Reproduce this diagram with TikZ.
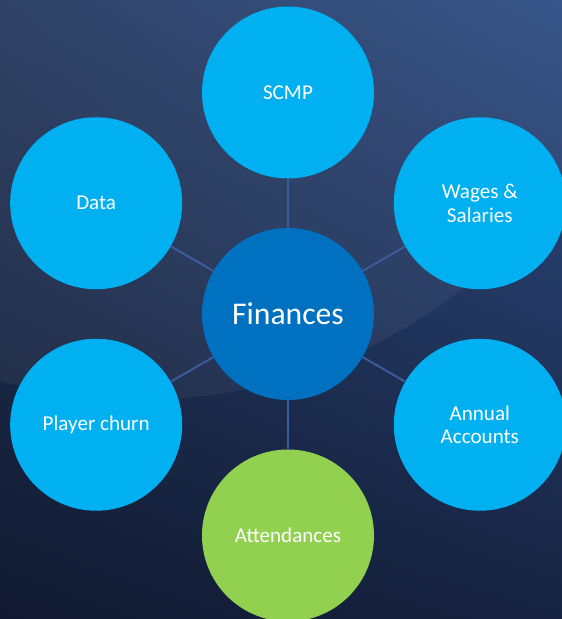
\documentclass[tikz,border=0pt]{standalone}
\usepackage{fontspec}
\setmainfont{Carlito}
\usepackage{tikz}
\usetikzlibrary{calc,shadings}
\definecolor{bgtl}{HTML}{25395F}
\definecolor{bgtr}{HTML}{2E4D84}
\definecolor{bgbl}{HTML}{101930}
\definecolor{bgbr}{HTML}{172341}
\definecolor{petalblue}{HTML}{00B0F0}
\definecolor{hubblue}{HTML}{0070C0}
\definecolor{petalgreen}{HTML}{92D050}
\definecolor{spoke}{HTML}{3A5D9E}
\tikzset{
every picture/.style={line cap=round,line join=round},
petal/.style={
  circle,
  fill=petalblue,
  minimum size=3.44cm,
  inner sep=0pt,
  align=center,
  text=white,
  font=\fontsize{12}{13.6}\selectfont
},
hub/.style={petal, fill=hubblue, font=\fontsize{18}{21}\selectfont},
green petal/.style={petal, fill=petalgreen},
spoke line/.style={draw=spoke, line width=1.1pt}
}
\begin{document}
\begin{tikzpicture}
% background
\useasboundingbox (-5.76,-6.10) rectangle (5.48,6.28);
\shade[upper left=bgtl,upper right=bgtr,lower left=bgbl,lower right=bgbr]
  (-5.76,-6.10) rectangle (5.48,6.28);
\begin{scope}
\clip (-5.76,-6.10) rectangle (5.48,6.28);
\fill[white,opacity=0.05] (-2.96,8.72) circle (10.44);
\end{scope}
% nodes
\node[hub] (fin) at (0,0) {Finances};
\node[petal] (scmp) at (90:4.43) {SCMP};
\node[petal] (wages) at (30:4.43) {Wages \&\\Salaries};
\node[petal] (annual) at (-30:4.43) {Annual\\Accounts};
\node[green petal] (attend) at (-90:4.43) {Attendances};
\node[petal] (churn) at (-150:4.43) {Player churn};
\node[petal] (data) at (150:4.43) {Data};
% spokes
\foreach \n in {scmp,wages,annual,attend,churn,data}
  \draw[spoke line] (fin) -- (\n);
\end{tikzpicture}
\end{document}
